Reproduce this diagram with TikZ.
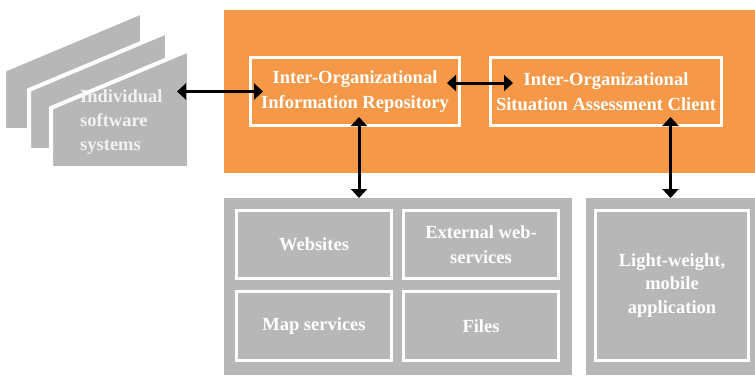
\documentclass[tikz,border=0pt]{standalone}
\usepackage{fontspec}
\setmainfont{Liberation Serif}
\usetikzlibrary{arrows.meta}

\definecolor{laranja}{RGB}{245,153,73}
\definecolor{cinza}{RGB}{183,183,183}

\tikzset{
	painel/.style={fill=laranja, inner sep=0, outer sep=0},
	grupo/.style={fill=cinza, inner sep=0, outer sep=0},
	caixa/.style={draw=white, line width=3pt, text=white, align=center, inner sep=0,
		font=\bfseries\fontsize{18.5}{24.5}\selectfont},
	ligacao/.style={{Triangle[length=9pt,width=16pt]}-{Triangle[length=9pt,width=16pt]}, line width=3pt},
}

\begin{document}
\begin{tikzpicture}[x=1pt, y=-1pt]
\useasboundingbox (0,0) rectangle (755,375);

% sistemas individuais (pilha)
	\foreach \dx/\dy in {-47/-38, -22/-18, 0/0}
		\filldraw[fill=cinza, draw=white, line width=4pt] (51+\dx,108+\dy) -- (51+\dx,168+\dy) -- (189+\dx,168+\dy) -- (189+\dx,50+\dy) -- cycle;
	\node[anchor=west, text=gray!10, align=left, inner sep=0, font=\bfseries\fontsize{18.5}{24}\selectfont] (sys) at (80,122) {Individual\\software\\systems};
	\coordinate (sysport) at (177,91.5);

% painel laranja
	\node[painel, minimum width=531, minimum height=163] (org) at (489.5,91.5) {};
	\node[caixa, minimum width=209, minimum height=68] (repo) at (355,91.5) {Inter-Organizational\\Information Repository};
	\node[caixa, minimum width=231, minimum height=68] (client) at (606,91.5) {Inter-Organizational\\Situation Assessment Client};

% fontes de dados
	\node[grupo, minimum width=348, minimum height=177] (srcs) at (398,286.5) {};
	\node[caixa, minimum width=155, minimum height=68] (web) at (314,244.5) {Websites};
	\node[caixa, minimum width=155, minimum height=68] (ext) at (481,244.5) {External web-\\services};
	\node[caixa, minimum width=155, minimum height=69] (map) at (314,326) {Map services};
	\node[caixa, minimum width=155, minimum height=69] (files) at (481,326) {Files};

% aplicacao movel
	\node[grupo, minimum width=169, minimum height=177] (mobile) at (670.5,286.5) {};
	\node[caixa, minimum width=153, minimum height=150, font=\bfseries\fontsize{18.5}{23.5}\selectfont] (app) at (672,285.5) {Light-weight,\\mobile\\application};

% ligacoes
	\draw[ligacao, shorten >=-14pt] (sysport |- repo.west) -- (repo.west);
	\draw[ligacao, shorten <=-14pt, shorten >=-24pt] ([yshift=8.5pt]repo.east) -- ([yshift=8.5pt]client.west);
	\draw[ligacao, shorten <=-10pt] ([xshift=4pt]repo.south) -- ([xshift=4pt]repo.south |- srcs.north);
	\draw[ligacao, shorten <=-10pt] (mobile.north |- client.south) -- (mobile.north);
\end{tikzpicture}
\end{document}
